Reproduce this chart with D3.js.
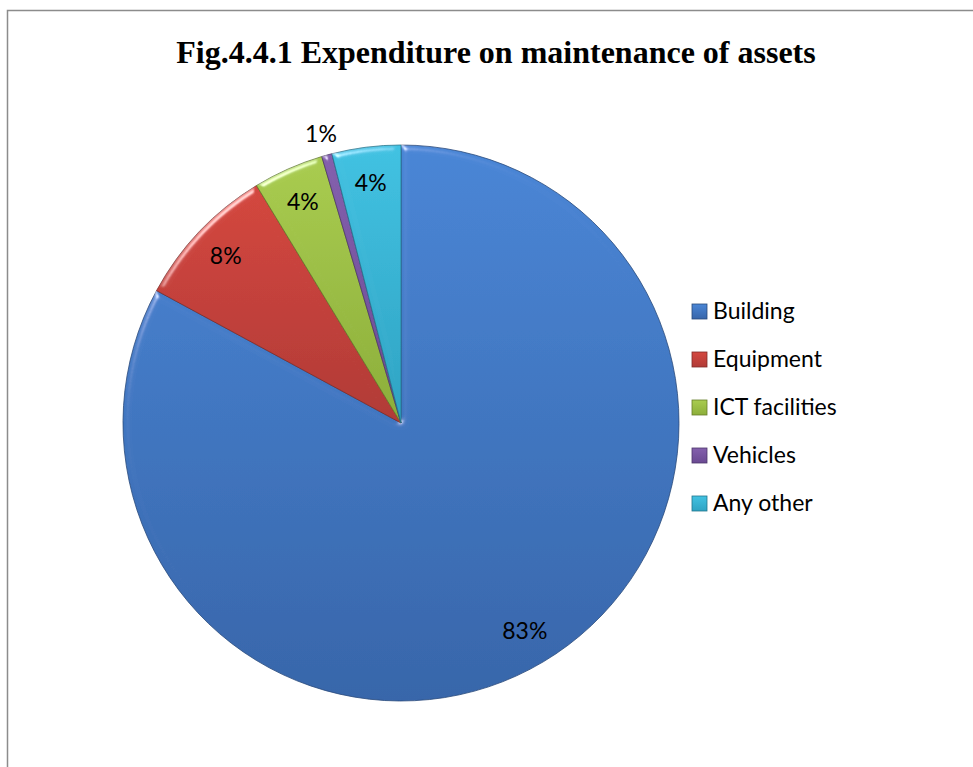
<!DOCTYPE html>
<head>
    <meta charset="utf-8">
    <script src="https://d3js.org/d3.v7.min.js"></script>
    <style>
        body { margin: 0; background: #fff; }
        text { font-family: Lato, "Open Sans", sans-serif; }
    </style>
</head>
<body>
    <svg width="973" height="767"></svg>
    <script>
        var width = 973, height = 767;

        var categories = ["Building", "Equipment", "ICT facilities", "Vehicles", "Any other"];
        var values = [82.9, 8.4, 4.1, 0.6, 4.0];
        var topColors = ["#4a86d6", "#d4473f", "#a9cc50", "#8460ad", "#42c2e2"];
        var bottomColors = ["#3866aa", "#b13b37", "#8cae3a", "#6a4a92", "#2fa3c3"];
        var title = "Fig.4.4.1 Expenditure on maintenance of assets";

        var svg = d3.select("svg");
        var cx = 401, cy = 423, radius = 278;

        var defs = svg.append("defs");

        // slice gradients, lighter on top like the old excel look
        categories.forEach((c, i) => {
            var g = defs.append("linearGradient")
                .attr("id", "grad" + i)
                .attr("x1", 0).attr("y1", 0).attr("x2", 0).attr("y2", 1);
            g.append("stop").attr("offset", "0%").attr("stop-color", topColors[i]);
            g.append("stop").attr("offset", "100%").attr("stop-color", bottomColors[i]);
        });

        // bevel: highlight edges only, flat part stays untouched
        var bevel = defs.append("filter").attr("id", "bevel")
            .attr("x", "-5%").attr("y", "-5%").attr("width", "110%").attr("height", "110%");
        bevel.append("feGaussianBlur").attr("in", "SourceAlpha").attr("stdDeviation", 3).attr("result", "blur");
        var spec = bevel.append("feSpecularLighting")
            .attr("in", "blur").attr("surfaceScale", 4).attr("specularConstant", 0.6)
            .attr("specularExponent", 40).attr("lighting-color", "#ffffff").attr("result", "spec");
        spec.append("feDistantLight").attr("azimuth", 235).attr("elevation", 30);
        bevel.append("feComposite").attr("in", "spec").attr("in2", "SourceAlpha")
            .attr("operator", "in").attr("result", "specIn");
        bevel.append("feComposite").attr("in", "SourceGraphic").attr("in2", "specIn")
            .attr("operator", "arithmetic").attr("k1", 0).attr("k2", 1).attr("k3", 1).attr("k4", 0);

        // frame
        svg.append("path")
            .attr("d", "M7.5," + height + "V10.5H" + width)
            .attr("fill", "none")
            .attr("stroke", "#8c8c8c")
            .attr("stroke-width", 1.5);

        svg.append("text")
            .attr("x", 496)
            .attr("y", 63)
            .attr("text-anchor", "middle")
            .style("font-family", "'Liberation Serif', 'Times New Roman', serif")
            .style("font-weight", "bold")
            .style("font-size", "32px")
            .text(title);

        var pie = d3.pie().sort(null).value(d => d.value);
        var data = categories.map((c, i) => ({ name: c, value: values[i], i: i }));
        var arcs = pie(data);
        var total = d3.sum(values);

        var arc = d3.arc().innerRadius(0).outerRadius(radius);

        var g = svg.append("g").attr("transform", "translate(" + cx + "," + cy + ")");

        g.selectAll("path")
            .data(arcs)
            .enter().append("path")
            .attr("d", arc)
            .attr("fill", d => "url(#grad" + d.data.i + ")")
            .attr("stroke", d => d3.color(bottomColors[d.data.i]).darker(0.9))
            .attr("stroke-width", 0.8)
            .attr("filter", "url(#bevel)");

        var labelArc = d3.arc().innerRadius(radius * 0.87).outerRadius(radius * 0.87);
        var outArc = d3.arc().innerRadius(radius + 22).outerRadius(radius + 22);

        g.selectAll("text.lbl")
            .data(arcs)
            .enter().append("text")
            .attr("class", "lbl")
            .attr("transform", d => {
                var p = (d.endAngle - d.startAngle) < 0.05 ? outArc.centroid(d) : labelArc.centroid(d);
                return "translate(" + p + ")";
            })
            .attr("text-anchor", "middle")
            .attr("dy", "0.35em")
            .style("font-size", "23px")
            .attr("fill", "#000")
            .text(d => Math.round(d.data.value / total * 100) + "%");

        // legend
        var legend = svg.append("g").attr("transform", "translate(692,311)");
        var item = legend.selectAll("g")
            .data(categories)
            .enter().append("g")
            .attr("transform", (d, i) => "translate(0," + i * 48 + ")");

        item.append("rect")
            .attr("x", 0).attr("y", -7)
            .attr("width", 15).attr("height", 15)
            .attr("fill", (d, i) => "url(#grad" + i + ")")
            .attr("stroke", (d, i) => d3.color(bottomColors[i]).darker(0.9))
            .attr("stroke-width", 0.8);

        item.append("text")
            .attr("x", 21)
            .attr("dy", "0.35em")
            .style("font-size", "23px")
            .attr("fill", "#000")
            .text(d => d);
    </script>
</body>
